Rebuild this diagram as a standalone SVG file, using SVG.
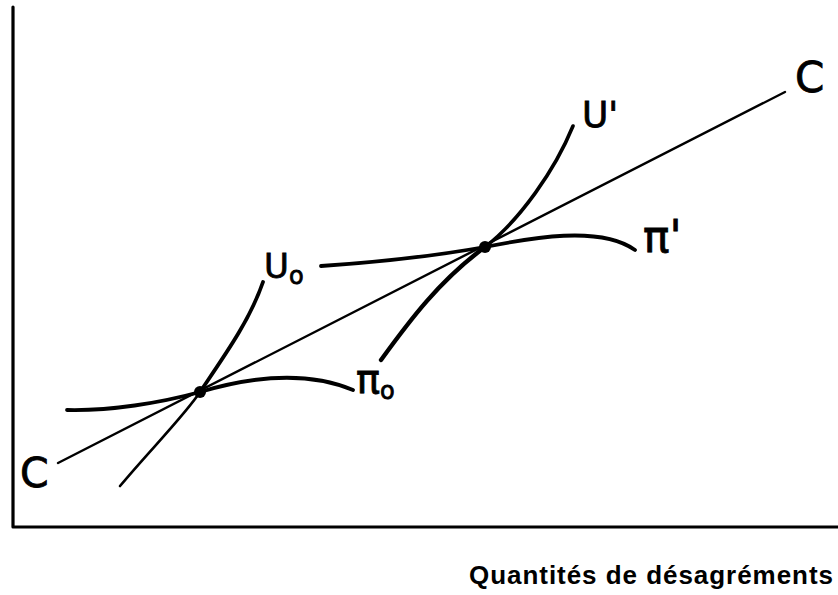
<svg xmlns="http://www.w3.org/2000/svg" width="838" height="595" viewBox="0 0 838 595">
<style>
.ln{fill:none;stroke:#000;stroke-linecap:round;stroke-linejoin:round}
.lb{font-family:"DejaVu Sans",sans-serif;fill:#000;stroke:#000;stroke-width:0.8}
.ax{font-family:"Liberation Sans",Arial,sans-serif;font-weight:bold;font-size:26px;fill:#000}
</style>
<rect width="838" height="595" fill="#fff"/>
<g id="axes">
<path class="ln" d="M13,7 L13,527 L838,527" stroke-width="3.2" stroke-linecap="butt"/>
</g>
<g id="line-C">
<path class="ln" d="M58,463 L785,92" stroke-width="2.4"/>
</g>
<g id="curves">
<path id="U0-low" class="ln" d="M120,486 C150,450 185,415 200,392" stroke-width="2.6"/>
<path id="U0-up" class="ln" d="M200,392 C225,355 250,320 263,282" stroke-width="3.8"/>
<path id="pi0" class="ln" d="M67,410 C110,411 160,403 200,392 C240,380 300,368 353,390" stroke-width="3.8"/>
<path id="U1-low" class="ln" d="M381,360 C410,320 440,280 485,247" stroke-width="4.4"/>
<path id="U1-up" class="ln" d="M485,247 C520,220 555,170 573,126" stroke-width="3.6"/>
<path id="pi1" class="ln" d="M321,266 C380,262 440,255 485,247 C530,238 600,225 635,250" stroke-width="3.8"/>
</g>
<g id="points">
<circle cx="200" cy="392" r="6"/>
<circle cx="485" cy="247" r="6"/>
</g>
<g id="labels">
<text class="lb" x="20" y="487" font-size="41">C</text>
<text class="lb" x="795" y="92" font-size="42">C</text>
<text class="lb" x="582" y="127" font-size="36">U'</text>
<text class="lb" x="643" y="252" font-size="44">π'</text>
<text class="lb" x="264" y="278" font-size="34">U<tspan font-size="24" dy="6">o</tspan></text>
<text class="lb" x="356" y="393" font-size="40">π<tspan font-size="24" dy="6">o</tspan></text>
</g>
<text class="ax" x="469" y="584" textLength="364" lengthAdjust="spacing">Quantités de désagréments</text>
</svg>
